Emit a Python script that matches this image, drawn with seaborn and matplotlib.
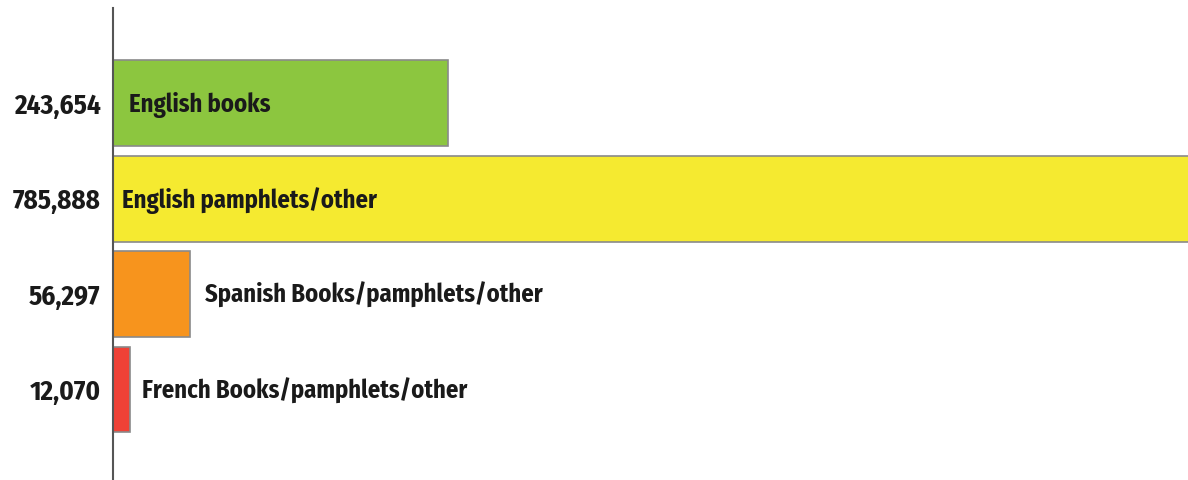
import matplotlib
matplotlib.use("Agg")
import matplotlib.pyplot as plt
from matplotlib import font_manager
import seaborn as sns
import pandas as pd

# Holdings by language and format
categories = ["English books", "English pamphlets/other",
              "Spanish Books/pamphlets/other", "French Books/pamphlets/other"]
counts = [243654, 785888, 56297, 12070]
tick_labels = ["243,654", "785,888", "56,297", "12,070"]
bar_colors = ["#8CC63F", "#F5EA30", "#F7941D", "#EF4136"]

sns.set_theme(style="white")
names = {f.name for f in font_manager.fontManager.ttflist}
preferred = ["Fira Sans Condensed", "PT Sans", "Roboto Condensed", "DejaVu Sans"]
family = [n for n in preferred if n in names][:1] + ["DejaVu Sans"]
plt.rcParams["font.family"] = family

df = pd.DataFrame({"category": categories, "count": counts})

fig = plt.figure(figsize=(11.88, 4.8), dpi=100)
ax = fig.add_axes([113 / 1188, 0.0, 1 - 113 / 1188, 472 / 480])

sns.barplot(data=df, y="category", x="count", hue="category",
            palette=bar_colors, orient="h", width=0.9, legend=False,
            edgecolor="#8a8a8a", linewidth=1.2, saturation=1, ax=ax)

ax.set_xlim(0, 782000)
ax.set_ylim(3.95, -1.0)
ax.set_xlabel("")
ax.set_ylabel("")
ax.set_xticks([])
ax.set_yticks(range(len(categories)))
ax.set_yticklabels(tick_labels, fontsize=19.5, fontweight="bold", color="#1a1a1a")
ax.tick_params(axis="y", length=0, pad=9)

for side in ["top", "right", "bottom"]:
    ax.spines[side].set_visible(False)
ax.spines["left"].set_color("#555555")
ax.spines["left"].set_linewidth(1.5)

# Labels sit inside the long bars and just past the end of the short ones
inside = [True, True, False, False]
offsets = [11.5, 6.5, 10.5, 9]
for i, (cat, val) in enumerate(zip(categories, counts)):
    x0 = 0 if inside[i] else val
    ax.annotate(cat, xy=(x0, i), xytext=(offsets[i], -1),
                textcoords="offset points", va="center", ha="left",
                fontsize=17.7, fontweight="bold", color="#1a1a1a")

fig.savefig("out.png", dpi=100)
